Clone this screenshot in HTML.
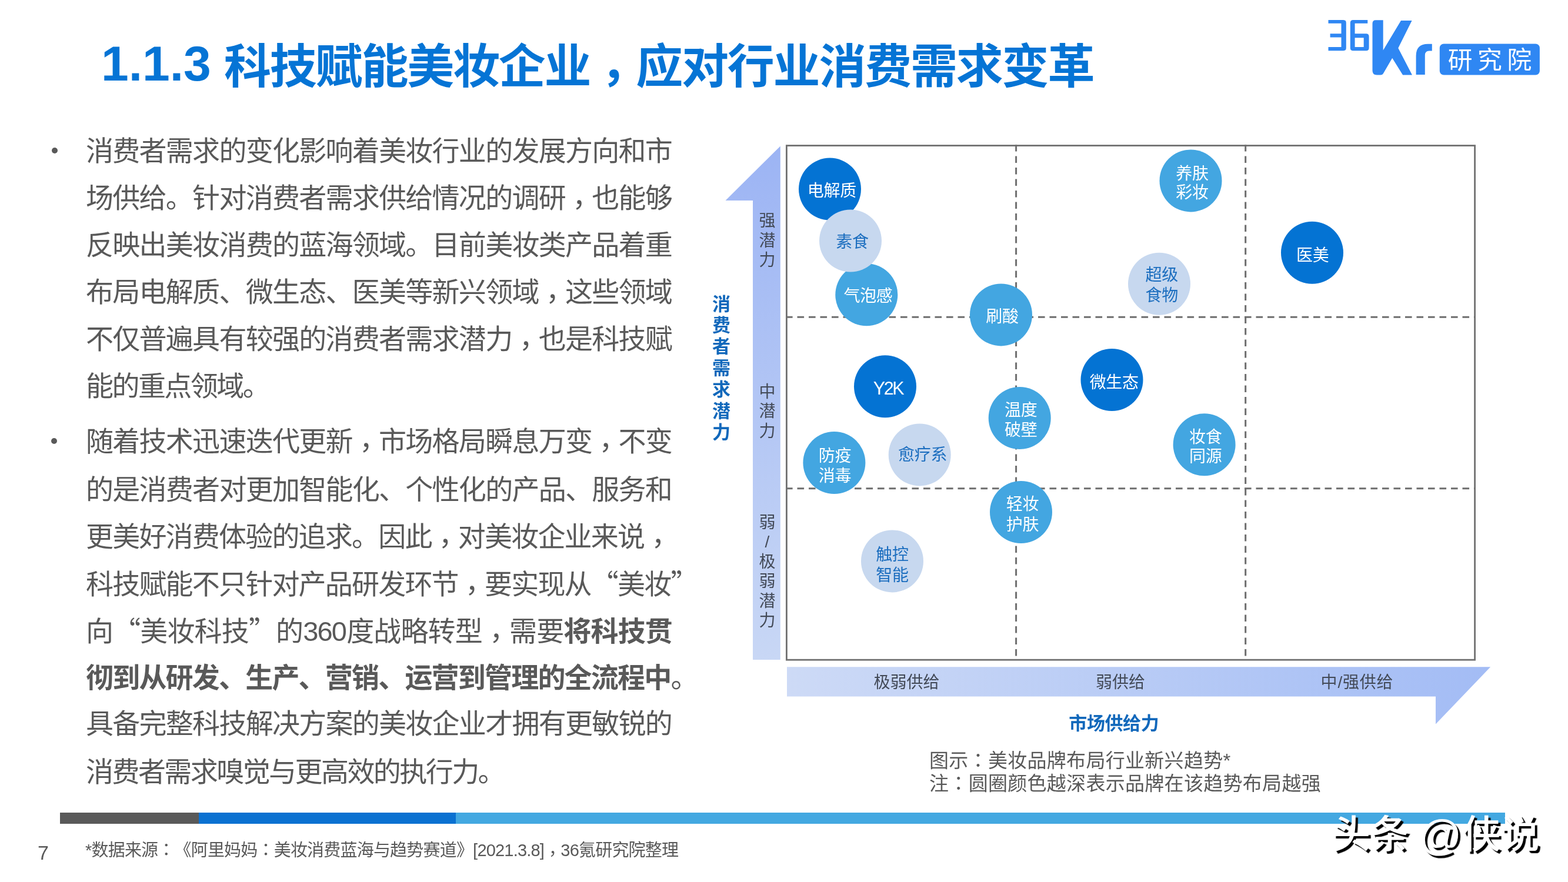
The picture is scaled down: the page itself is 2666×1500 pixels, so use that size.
<!DOCTYPE html>
<html lang="zh-CN">
<head>
<meta charset="utf-8">
<title>1.1.3 科技赋能美妆企业，应对行业消费需求变革</title>
<style>
html,body{margin:0;padding:0;background:#fff;}
body{width:2666px;height:1500px;position:relative;overflow:hidden;text-spacing-trim:space-all;font-family:"Liberation Sans","Noto Sans CJK SC",sans-serif;}
.abs{position:absolute;white-space:nowrap;}
#t1{left:172px;top:48px;font-size:84px;line-height:120px;font-weight:700;color:#0574d5;}
#t2{left:381px;top:54px;font-size:80px;line-height:120px;font-weight:700;color:#0574d5;letter-spacing:-2.2px;}
.tc{font-family:"Noto Sans CJK TC",sans-serif;position:relative;top:0.25em;line-height:0;}
.tc2{font-family:"Noto Sans CJK TC",sans-serif;line-height:0;}
.lq{display:inline-block;line-height:0;width:45.2px;text-align:right;font-family:"Noto Sans CJK SC",sans-serif;letter-spacing:0;}
.rq{display:inline-block;line-height:0;width:45.2px;text-align:left;font-family:"Noto Sans CJK SC",sans-serif;letter-spacing:0;}
.body{color:#595959;font-size:47px;letter-spacing:-1.8px;font-weight:400;}
.ln{position:absolute;left:146px;width:996px;height:80px;line-height:80px;white-space:nowrap;text-align:justify;text-align-last:justify;}
.ln.last{text-align:left;text-align-last:left;}
.ln.nat{letter-spacing:-2.56px;}
.ln b{font-weight:700;}
.bullet{position:absolute;width:10px;height:10px;border-radius:50%;background:#595959;}
#chart{position:absolute;left:0;top:0;}
.cap{color:#595959;font-size:33px;letter-spacing:0.3px;line-height:39px;}
#foot{left:145px;top:1426px;font-size:29px;color:#595959;line-height:40px;letter-spacing:-0.8px;}
#pnum{left:64px;top:1430px;font-size:34px;color:#595959;line-height:40px;}
#wm{left:2264px;top:1374px;font-size:66px;line-height:90px;color:#fff;font-weight:500;text-shadow:4px 4px 1px #000;letter-spacing:0px;}
#wm .at{font-size:72px;line-height:0;position:relative;top:3px;margin-left:-2px;letter-spacing:0px;}
</style>
</head>
<body>
<!-- Title -->
<div id="t1" class="abs">1.1.3</div>
<div id="t2" class="abs">科技赋能美妆企业<span class="tc" lang="zh-TW">，</span>应对行业消费需求变革</div>

<!-- Logo -->
<svg class="abs" style="left:0;top:0" width="2666" height="140" viewBox="0 0 2666 140">
  <g fill="#2f87f3">
    <!-- 3 -->
    <path d="M2258.5 33.9 H2284 Q2288.8 33.9 2288.8 38.7 V81.5 Q2288.8 86.3 2284 86.3 H2258.5 V80.1 H2280.5 V63.4 H2261.6 V57.2 H2280.5 V39.8 H2258.5 Z"/>
    <!-- 6 -->
    <path fill-rule="evenodd" d="M2300.6 33.9 H2325.3 V39.8 H2303.6 V57.2 H2322.8 Q2327.6 57.2 2327.6 62 V81.5 Q2327.6 86.3 2322.8 86.3 H2300.6 Q2295.8 86.3 2295.8 81.5 V38.7 Q2295.8 33.9 2300.6 33.9 Z M2303.6 64.2 V80.1 H2318.7 V64.2 Z"/>
    <!-- K -->
    <path d="M2339 34.3 H2351.7 V85.6 L2382 35.1 H2400.6 L2377.3 81.7 L2401 127.5 H2385.1 L2367.2 98.8 L2352.5 124 Q2350.8 127.5 2347 127.5 H2341 Q2333.5 127.5 2333.5 120 V40 Q2333.5 34.3 2339 34.3 Z"/>
    <!-- r -->
    <path d="M2407.6 127 V95 Q2407.6 74.8 2428 74.8 H2434.8 V86.4 H2430 Q2422.8 86.4 2422.8 94 V127 Z"/>
    <rect x="2447.8" y="74.4" width="170.1" height="53.1" rx="7" ry="7"/>
  </g>
  <text x="2461.7" y="116.8" font-family="Noto Sans CJK SC" font-weight="400" font-size="41.8" fill="#fff" letter-spacing="8.6">研究院</text>
</svg>

<!-- Body text -->
<div class="body">
  <div class="bullet" style="left:87.5px;top:251px"></div>
  <div class="ln" style="top:217.0px">消费者需求的变化影响着美妆行业的发展方向和市</div>
  <div class="ln" style="top:297.0px">场供给。针对消费者需求供给情况的调研<span class="tc" lang="zh-TW">，</span>也能够</div>
  <div class="ln" style="top:377.0px">反映出美妆消费的蓝海领域。目前美妆类产品着重</div>
  <div class="ln" style="top:457.0px">布局电解质、微生态、医美等新兴领域<span class="tc" lang="zh-TW">，</span>这些领域</div>
  <div class="ln" style="top:537.0px">不仅普遍具有较强的消费者需求潜力<span class="tc" lang="zh-TW">，</span>也是科技赋</div>
  <div class="ln last nat" style="top:617.0px">能的重点领域。</div>
  <div class="bullet" style="left:87px;top:745px"></div>
  <div class="ln" style="top:710.5px">随着技术迅速迭代更新<span class="tc" lang="zh-TW">，</span>市场格局瞬息万变<span class="tc" lang="zh-TW">，</span>不变</div>
  <div class="ln" style="top:793.0px">的是消费者对更加智能化、个性化的产品、服务和</div>
  <div class="ln last" style="top:873.3px">更美好消费体验的追求。因此<span class="tc" lang="zh-TW">，</span>对美妆企业来说<span class="tc" lang="zh-TW">，</span></div>
  <div class="ln last" style="top:953.7px">科技赋能不只针对产品研发环节<span class="tc" lang="zh-TW">，</span>要实现从<span class="lq">“</span>美妆<span class="rq">”</span></div>
  <div class="ln" style="top:1034.1px">向<span class="lq">“</span>美妆科技<span class="rq">”</span>的360度战略转型<span class="tc" lang="zh-TW">，</span>需要<b>将科技贯</b></div>
  <div class="ln" style="top:1112.5px"><b>彻到从研发、生产、营销、运营到管理的全流程中</b>。</div>
  <div class="ln" style="top:1190.9px">具备完整科技解决方案的美妆企业才拥有更敏锐的</div>
  <div class="ln last nat" style="top:1273.3px">消费者需求嗅觉与更高效的执行力。</div>
</div>

<!-- Chart -->
<svg id="chart" width="2666" height="1500" viewBox="0 0 2666 1500">
  <defs>
    <linearGradient id="gv" x1="0" y1="0" x2="0" y2="1">
      <stop offset="0" stop-color="#9cb4f4"/>
      <stop offset="1" stop-color="#c8d7f5"/>
    </linearGradient>
    <linearGradient id="gh" x1="0" y1="0" x2="1" y2="0">
      <stop offset="0" stop-color="#cddaf6"/>
      <stop offset="1" stop-color="#a3bcf5"/>
    </linearGradient>
  </defs>
  <!-- vertical arrow -->
  <polygon points="1280,341 1233.5,341 1326.8,248.4 1326.8,1122 1280,1122" fill="url(#gv)"/>
  <!-- horizontal arrow -->
  <polygon points="1338,1134.2 2534.2,1134.2 2441,1231.5 2441,1184.4 1338,1184.4" fill="url(#gh)"/>
  <!-- dashed grid -->
  <g stroke="#6e6e6e" stroke-width="3" stroke-dasharray="11.6 7.9" fill="none">
    <line x1="1727.6" y1="246" x2="1727.6" y2="1122"/>
    <line x1="2117.7" y1="246" x2="2117.7" y2="1122"/>
    <line x1="1336" y1="539.3" x2="2508" y2="539.3"/>
    <line x1="1336" y1="830.8" x2="2508" y2="830.8"/>
  </g>
  <!-- frame -->
  <rect x="1337.4" y="247.6" width="1170.2" height="874.6" fill="none" stroke="#707070" stroke-width="2.8"/>

  <!-- circles -->
  <g>
    <circle cx="1411" cy="321.6" r="53" fill="#0473d3"/>
    <circle cx="1473.3" cy="501.2" r="53" fill="#43a6e1"/>
    <circle cx="1446" cy="409.5" r="53" fill="#c7d8ef"/>
    <circle cx="1702" cy="535.4" r="53" fill="#43a6e1"/>
    <circle cx="2024.5" cy="307.4" r="53" fill="#43a6e1"/>
    <circle cx="2231" cy="429.7" r="53" fill="#0473d3"/>
    <circle cx="1971" cy="482.7" r="53" fill="#c7d8ef"/>
    <circle cx="1505" cy="657.3" r="53" fill="#0473d3"/>
    <circle cx="1890.5" cy="646" r="53" fill="#0473d3"/>
    <circle cx="1733.7" cy="711" r="53" fill="#43a6e1"/>
    <circle cx="1418.4" cy="787" r="53" fill="#43a6e1"/>
    <circle cx="1563.7" cy="773.4" r="53" fill="#c7d8ef"/>
    <circle cx="2047.6" cy="756.3" r="53" fill="#43a6e1"/>
    <circle cx="1736" cy="871" r="53" fill="#43a6e1"/>
    <circle cx="1517" cy="954.4" r="53" fill="#c7d8ef"/>
  </g>
  <!-- circle labels -->
  <g font-family="Liberation Sans, Noto Sans CJK SC, sans-serif" font-size="28" text-anchor="middle" letter-spacing="-0.3">
    <g fill="#ffffff">
      <text x="1414.3" y="334">电解质</text>
      <text x="1476" y="513">气泡感</text>
      <text x="1704" y="548">刷酸</text>
      <text x="2027" y="304.5">养肤</text>
      <text x="2027" y="337.4">彩妆</text>
      <text x="2231.8" y="444">医美</text>
      <text x="1510" y="670.8" font-size="30.5" letter-spacing="-2.4">Y2K</text>
      <text x="1894.2" y="659.5">微生态</text>
      <text x="1735.8" y="707">温度</text>
      <text x="1735.8" y="740.5">破壁</text>
      <text x="1419.5" y="785">防疫</text>
      <text x="1419.5" y="818.7">消毒</text>
      <text x="2049.8" y="753.2">妆食</text>
      <text x="2049.8" y="785.8">同源</text>
      <text x="1738.5" y="866.6">轻妆</text>
      <text x="1738.5" y="901.8">护肤</text>
    </g>
    <g fill="#1c6ebf">
      <text x="1449" y="421.1">素食</text>
      <text x="1975.2" y="477">超级</text>
      <text x="1975.2" y="511.7">食物</text>
      <text x="1568.6" y="783.3">愈疗系</text>
      <text x="1517" y="952.8">触控</text>
      <text x="1517" y="987.6">智能</text>
    </g>
  </g>

  <!-- axis labels -->
  <g font-family="Liberation Sans, Noto Sans CJK SC, sans-serif" font-size="28" fill="#434a57" text-anchor="middle">
    <text x="1304.5" y="385.0">强</text>
    <text x="1304.5" y="418.5">潜</text>
    <text x="1304.5" y="452.0">力</text>
    <text x="1304.5" y="675.5">中</text>
    <text x="1304.5" y="709.0">潜</text>
    <text x="1304.5" y="742.5">力</text>
    <text x="1304.5" y="897.5">弱</text>
    <text x="1304.5" y="931">/</text>
    <text x="1304.5" y="964.5">极</text>
    <text x="1304.5" y="998">弱</text>
    <text x="1304.5" y="1031.5">潜</text>
    <text x="1304.5" y="1065">力</text>
    <text x="1541.5" y="1170">极弱供给</text>
    <text x="1905" y="1170">弱供给</text>
    <text x="2307.5" y="1170" letter-spacing="0.8">中/强供给</text>
  </g>
  <g font-family="Liberation Sans, Noto Sans CJK SC, sans-serif" font-size="31" font-weight="700" fill="#1168bb" text-anchor="middle">
    <text x="1226.6" y="527.6">消</text>
    <text x="1226.6" y="564.0">费</text>
    <text x="1226.6" y="600.4">者</text>
    <text x="1226.6" y="636.8">需</text>
    <text x="1226.6" y="673.2">求</text>
    <text x="1226.6" y="709.6">潜</text>
    <text x="1226.6" y="746.0">力</text>
    <text x="1893.8" y="1241" letter-spacing="-0.4">市场供给力</text>
  </g>
</svg>

<!-- caption -->
<div class="abs cap" style="left:1580px;top:1273.5px">图示<span class="tc2" lang="zh-TW">：</span>美妆品牌布局行业新兴趋势*</div>
<div class="abs cap" style="left:1580px;top:1312.5px">注<span class="tc2" lang="zh-TW">：</span>圆圈颜色越深表示品牌在该趋势布局越强</div>

<!-- bottom bar -->
<div class="abs" style="left:102.4px;top:1382.1px;width:235.3px;height:19.4px;background:#595959"></div>
<div class="abs" style="left:337.7px;top:1382.1px;width:437.1px;height:19.4px;background:#0a71d1"></div>
<div class="abs" style="left:774.8px;top:1382.1px;width:1784.2px;height:19.4px;background:#43a8e1"></div>

<div id="pnum" class="abs">7</div>
<div id="foot" class="abs">*数据来源<span class="tc2" lang="zh-TW">：</span>《阿里妈妈<span class="tc2" lang="zh-TW">：</span>美妆消费蓝海与趋势赛道》[2021.3.8]<span class="tc" lang="zh-TW">，</span>36氪研究院整理</div>

<div id="wm" class="abs">头条 <span class="at">@</span>侠说</div>
</body>
</html>
